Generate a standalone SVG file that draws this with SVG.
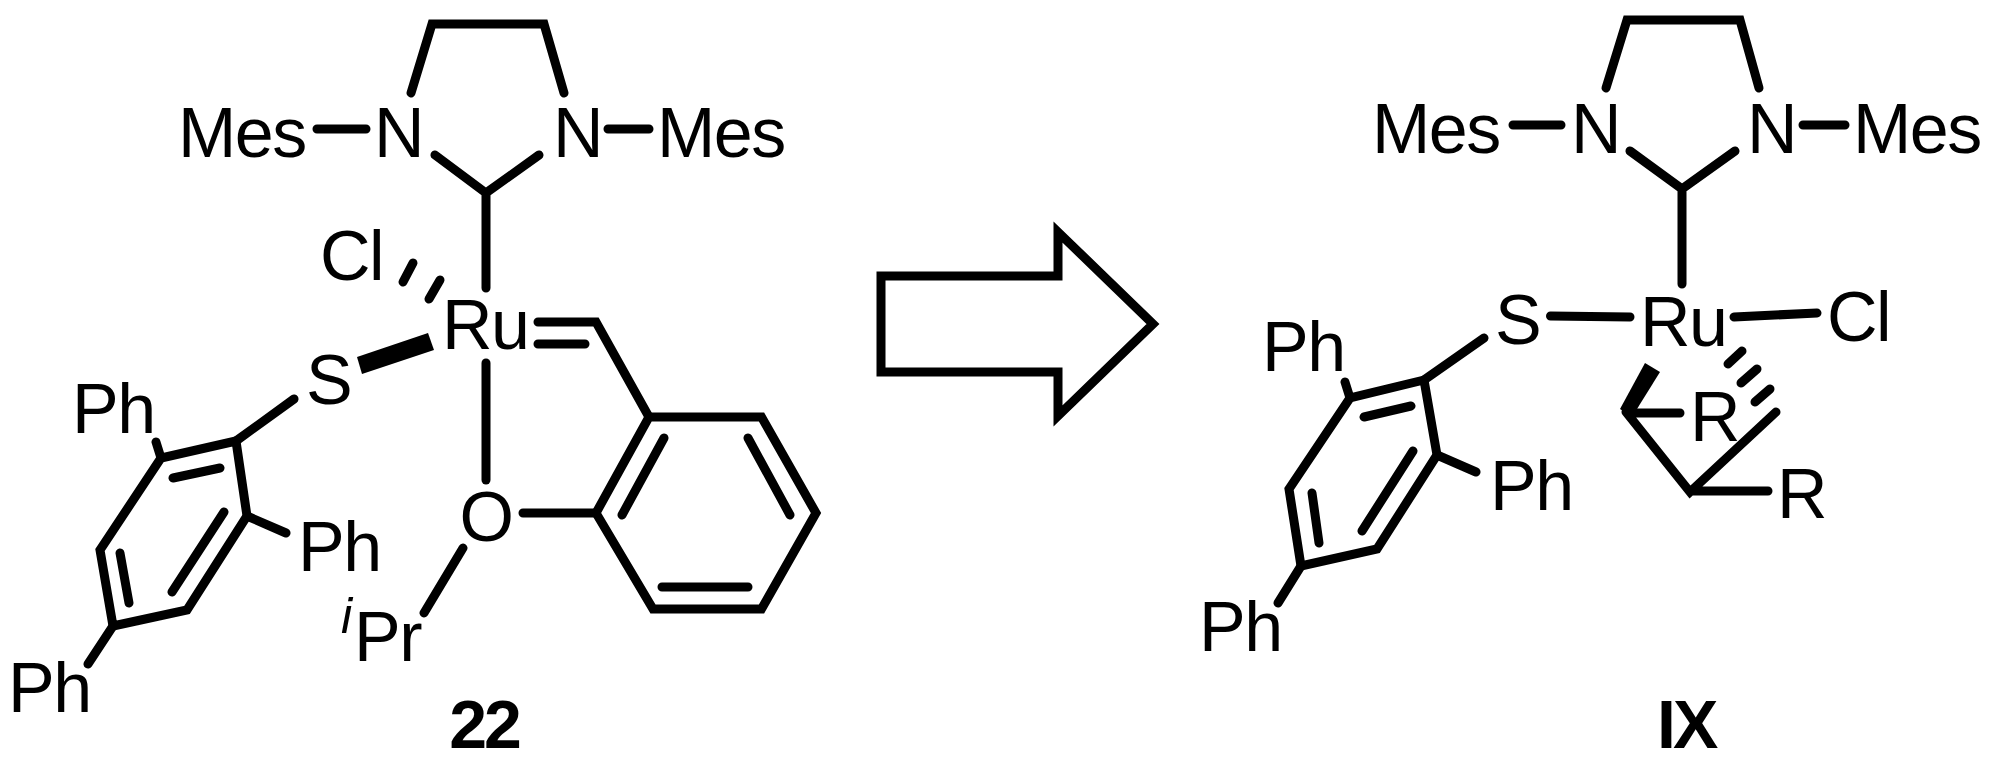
<svg xmlns="http://www.w3.org/2000/svg" width="1993" height="765" viewBox="0 0 1993 765">
<style>
text{font-family:"Liberation Sans",Arial,sans-serif;font-size:70px;letter-spacing:-1.5px;fill:#000}
.b{font-weight:bold;font-size:68px;letter-spacing:-3px}
.i{font-style:italic;font-size:50px;letter-spacing:0}
.m{text-anchor:middle}
#bonds path{fill:none;stroke:#000;stroke-width:9;stroke-linecap:round;stroke-linejoin:miter}
#bonds polygon{fill:#000;stroke:none}
#arrow polygon{fill:#fff;stroke:#000;stroke-width:9;stroke-linejoin:miter}
</style>
<rect width="1993" height="765" fill="#fff"/>
<g id="bonds">
<path d="M411 93L432 24H544L564 93"/>
<path d="M317 129H366M608 129H649"/>
<path d="M435 155L486 193L539 155M486 193V288"/>
<path d="M413 263L403 282M440 280L429 299"/>
<path d="M538 322H596L649 417M538 344H585"/>
<polygon points="428,333 434,350 362,374 357,357"/>
<path d="M486 363V480"/>
<path d="M649 417H761.5L816 513L761.5 609H653L596 513Z"/>
<path d="M664 438L622 515M748 438L790 515M662 587H748"/>
<path d="M523 513H596M463 548L424 613"/>
<path d="M236 441L161 458L100 550L113 626L187 610L247 516Z"/>
<path d="M173 478L220 468M224 512L172 592M120 553L129 603"/>
<path d="M294 399L236 441M156 442L161 458M247 516L286 533M113 626L88 664"/>
<path d="M1606 88L1627 20H1740L1759 88"/>
<path d="M1513 125H1561M1803 125H1845"/>
<path d="M1630 151L1682 189L1735 151M1682 189V284"/>
<path d="M1550.5 316L1630 317M1734 317L1817 313"/>
<path d="M1424 380L1350 398L1289 489L1301 566L1377 549L1437 455Z"/>
<path d="M1364 417L1411 406M1413 451L1362 531M1312 493L1319 543"/>
<path d="M1484 338L1424 380M1345 382L1350 398M1437 455L1476 472M1301 566L1278 603"/>
<polygon points="1645,363 1660,372 1632,417 1620,409"/>
<path d="M1637 413H1680M1626 412L1690 492L1776 412M1690 491H1768"/>
<path d="M1742 351L1728 364M1757 369L1741 383M1770 389L1755 402"/>
</g>
<g id="arrow"><polygon points="881,276 1058,276 1058,232 1153,324 1058,416 1058,372 881,372"/></g>
<g id="mol22-atoms">
<g id="a-mes1"><text x="178" y="157">Mes</text></g>
<g id="a-n1"><text x="374" y="157">N</text></g>
<g id="a-n2"><text x="553" y="157">N</text></g>
<g id="a-mes2"><text x="657" y="157">Mes</text></g>
<g id="a-cl1"><text x="320" y="280">Cl</text></g>
<g id="a-ru1"><text x="442" y="349">Ru</text></g>
<g id="a-s1"><text x="306" y="404">S</text></g>
<g id="a-ph1"><text x="72" y="433">Ph</text></g>
<g id="a-ph2"><text x="298" y="571">Ph</text></g>
<g id="a-ph3"><text x="8" y="712">Ph</text></g>
<g id="a-o"><text class="m" x="486" y="541">O</text></g>
<g id="a-ipr"><text class="i" x="341" y="633">i</text><text x="354" y="661">Pr</text></g>
<g id="label-22"><text class="b m" x="484" y="748">22</text></g>
</g>
<g id="molIX-atoms">
<g id="b-mes1"><text x="1372" y="153">Mes</text></g>
<g id="b-n1"><text x="1571" y="153">N</text></g>
<g id="b-n2"><text x="1747" y="153">N</text></g>
<g id="b-mes2"><text x="1853" y="153">Mes</text></g>
<g id="b-s"><text x="1495" y="344">S</text></g>
<g id="b-ru"><text x="1640" y="346">Ru</text></g>
<g id="b-cl"><text x="1827" y="341">Cl</text></g>
<g id="b-ph1"><text x="1262" y="371">Ph</text></g>
<g id="b-ph2"><text x="1490" y="510">Ph</text></g>
<g id="b-ph3"><text x="1199" y="651">Ph</text></g>
<g id="b-r1"><text x="1690" y="441">R</text></g>
<g id="b-r2"><text x="1777" y="518">R</text></g>
<g id="label-IX"><text class="b" x="1657" y="748">IX</text></g>
</g>
</svg>
